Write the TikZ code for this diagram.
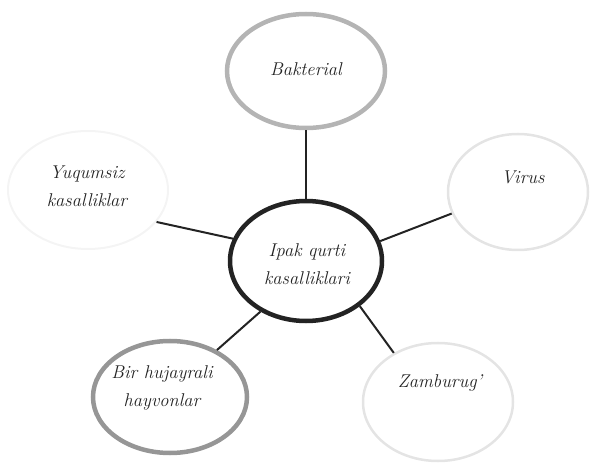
\documentclass[tikz,border=0pt]{standalone}
\usepackage{tikz}
\usetikzlibrary{shapes.geometric}
\definecolor{mydark}{RGB}{35, 35, 35}
\definecolor{mygrayA}{RGB}{180, 180, 180}
\definecolor{mygrayB}{RGB}{150, 150, 150}
\definecolor{mygrayC}{RGB}{228, 228, 228}
\definecolor{mygrayD}{RGB}{244, 244, 244}
\tikzset{every picture/.style={line width=0.75pt}}
\tikzset{
  bubble/.style={ellipse, draw, inner sep=0pt},
  label text/.style={inner sep=0.75pt, align=center, text=mydark,
    font=\fontsize{18.5}{28}\selectfont\itshape},
  spoke/.style={draw=mydark, line width=2pt}
}

\begin{document}
\begin{tikzpicture}[x=1pt,y=1pt,yscale=-1]
\useasboundingbox (0,0) rectangle (598,468);

%Shape: Ellipse [center]
\node [bubble, draw=mydark, line width=4.5pt, minimum width=152, minimum height=120] (ipak) at (306,261) {};
%Shape: Ellipse [top]
\node [bubble, draw=mygrayA, line width=4.5pt, minimum width=158, minimum height=114] (bak) at (306,71) {};
%Shape: Ellipse [right]
\node [bubble, draw=mygrayC, line width=2.5pt, minimum width=140, minimum height=116] (virus) at (518,192) {};
%Shape: Ellipse [left]
\node [bubble, draw=mygrayD, line width=2pt, minimum width=160, minimum height=118] (yuq) at (88,190) {};
%Shape: Ellipse [bottom left]
\node [bubble, draw=mygrayB, line width=4.5pt, minimum width=154, minimum height=112] (bir) at (170,397) {};
%Shape: Ellipse [bottom right]
\node [bubble, draw=mygrayC, line width=2.5pt, minimum width=150, minimum height=118] (zam) at (438,402) {};

%Straight Lines
\draw [spoke] (ipak.north) -- (bak.south) ;
\draw [spoke] (ipak.15) -- (virus.198) ;
\draw [spoke] (ipak.163) -- (yuq.335) ;
\draw [spoke] (ipak.228) -- (bir.45) ;
\draw [spoke] (ipak.320) -- (zam.132) ;

% Text Node
\node [label text] (ipaktxt) at (307,264) {Ipak qurti\\kasalliklari};
% Text Node
\node [label text] (baktxt) at (306,69) {Bakterial};
% Text Node
\node [label text] (virustxt) at (523,177) {Virus};
% Text Node
\node [label text] (yuqtxt) at (87,186) {Yuqumsiz\\kasalliklar};
% Text Node
\node [label text] (birtxt) at (162,388) {Bir hujayrali\\hayvonlar};
% Text Node
\node [label text] (zamtxt) at (440,383) {Zamburug'};

\end{tikzpicture}
\end{document}
